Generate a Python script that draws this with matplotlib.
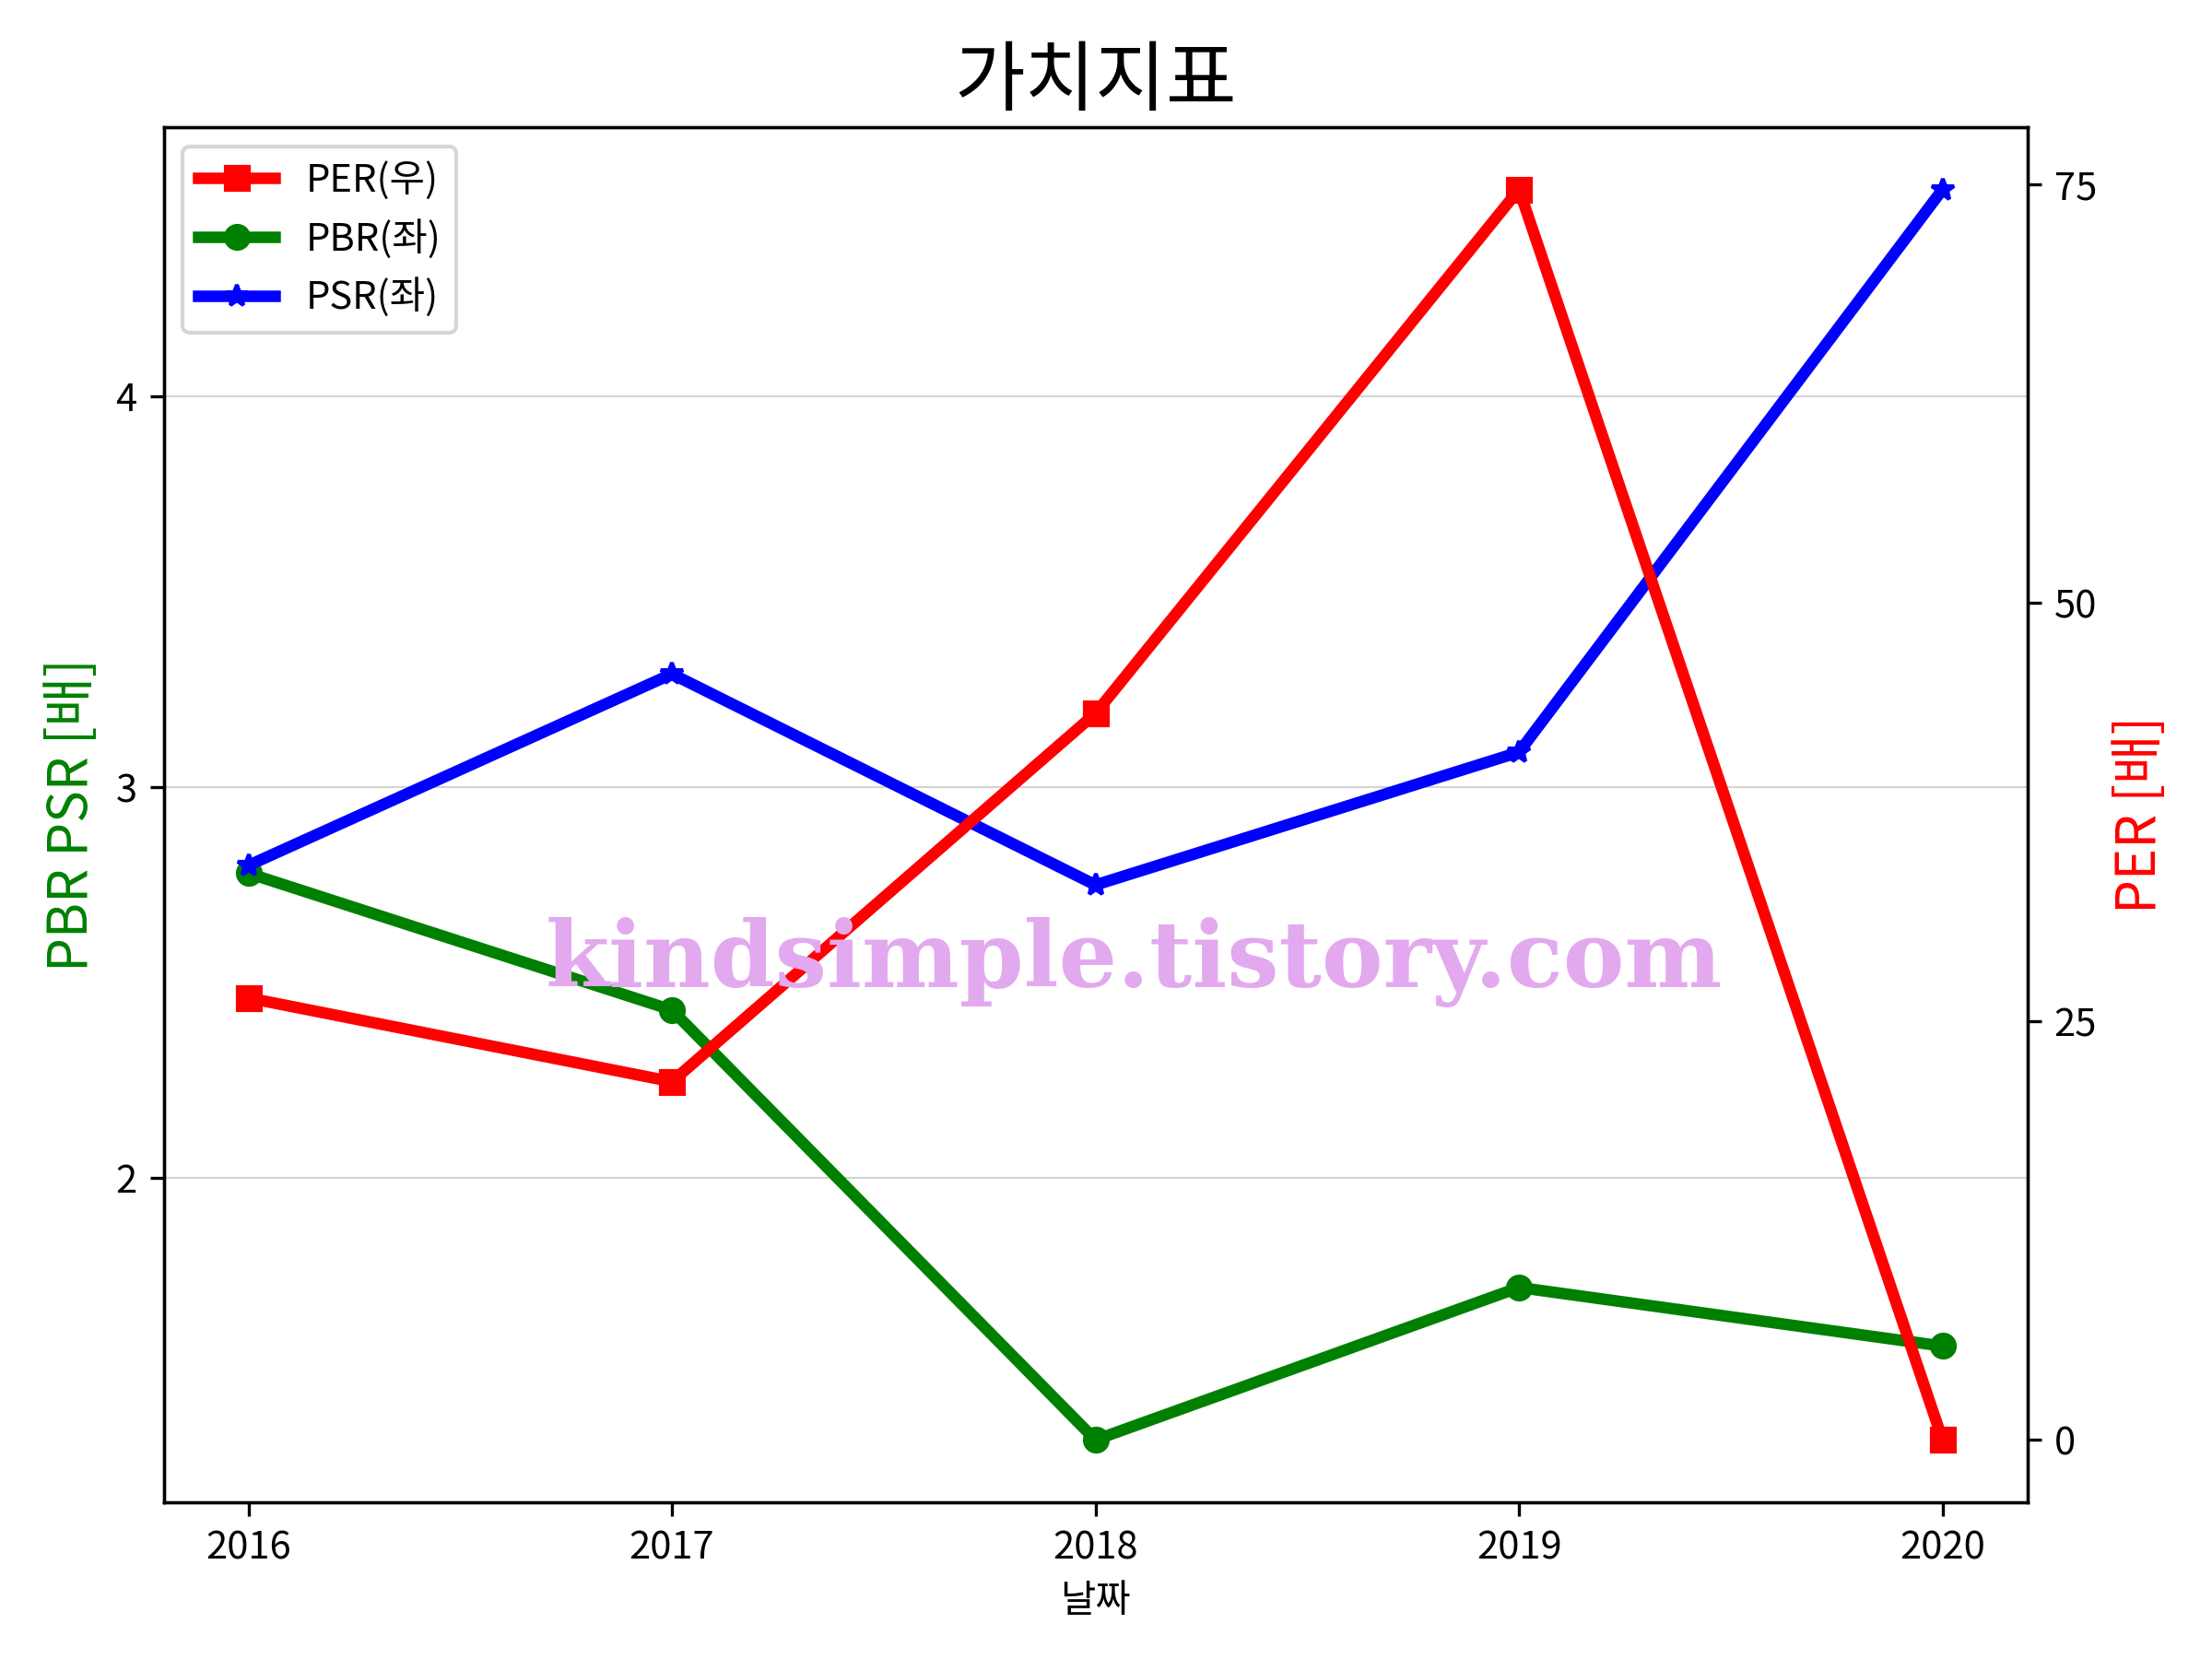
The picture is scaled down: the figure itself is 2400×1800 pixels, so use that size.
import matplotlib
matplotlib.use("Agg")
import matplotlib.pyplot as plt

plt.rcParams['font.family'] = ['Noto Sans CJK KR', 'DejaVu Sans']
plt.rcParams['axes.unicode_minus'] = False

years = [2016, 2017, 2018, 2019, 2020]
per = [26.4, 21.4, 43.4, 74.7, 0.0]
pbr = [2.78, 2.43, 1.33, 1.72, 1.57]
psr = [2.80, 3.29, 2.75, 3.09, 4.53]

fig, ax = plt.subplots(figsize=(8, 6), dpi=300)
ax2 = ax.twinx()

l_per, = ax2.plot(years, per, color='red', marker='s', lw=3, label='PER(우)')
l_pbr, = ax.plot(years, pbr, color='green', marker='o', lw=3, label='PBR(좌)')
l_psr, = ax.plot(years, psr, color='blue', marker='*', lw=3, label='PSR(좌)')

ax.set_xticks(years)
ax.set_xticklabels([str(y) for y in years])
ax.set_yticks([2, 3, 4])
ax2.set_yticks([0, 25, 50, 75])
ax.grid(axis='y', color='lightgray', lw=0.5)

ax.set_xlabel('날짜', fontsize=10)
ax.set_ylabel('PBR PSR [배]', color='green', fontsize=14)
ax2.set_ylabel('PER [배]', color='red', fontsize=14)
ax.set_title('가치지표', fontsize=20)

ax.legend(handles=[l_per, l_pbr, l_psr], loc='upper left')

fig.text(0.5125, 0.42, 'kindsimple.tistory.com', fontsize=24, fontweight='bold',
         family='DejaVu Serif', color='#E3A9EE', ha='center', va='center', zorder=10)

fig.subplots_adjust(left=0.074, right=0.9165, top=0.9235, bottom=0.0944)
fig.savefig('out.png', dpi=300)
